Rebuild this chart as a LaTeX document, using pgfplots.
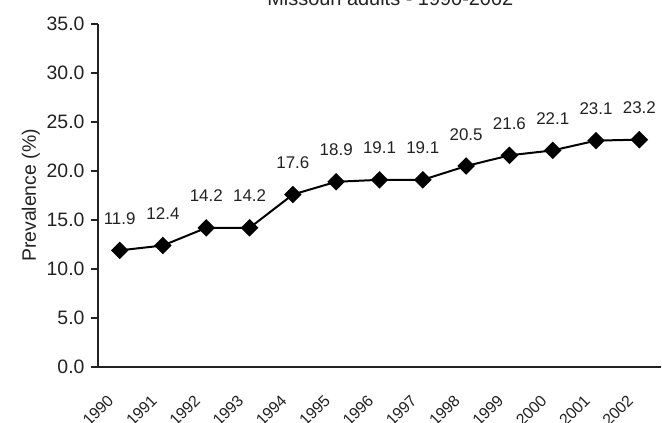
\documentclass[border=0pt]{standalone}
\usepackage{fontspec}
\setmainfont{Liberation Sans}
\usepackage{pgfplots}
\pgfplotsset{compat=1.18}
\definecolor{ink}{HTML}{222222}
\begin{document}
\begin{tikzpicture}
\begin{axis}[
  name=ax,
  scale only axis,
  width=563bp, height=343bp,
  xmin=0, xmax=13, ymin=0, ymax=35,
  clip=false,
  axis lines=left,
  axis line style={-, line width=1.6bp, ink},
  tick align=outside,
  major tick length=7bp, minor tick length=6bp,
  every tick/.style={line width=1.4bp, ink},
  xtick={0.5,1.5,...,12.5},
  xticklabels={1990,1991,1992,1993,1994,1995,1996,1997,1998,1999,2000,2001,2002},
  minor xtick={0,...,13},
  xtick style={draw=none},
  ytick={0,5,...,35},
  /pgf/number format/.cd, fixed, fixed zerofill, precision=1, assume math mode=true,
  /pgfplots/.cd,
  ticklabel style={text=ink},
  yticklabel style={font=\fontsize{19.5}{21}\selectfont, xshift=-3bp},
  xticklabel style={font=\fontsize{16}{18}\selectfont, xshift=-13bp, yshift=-15bp, rotate=45, anchor=north east},
  ylabel={Prevalence (\%)},
  ylabel style={font=\fontsize{19.5}{21}\selectfont, text=ink},
  nodes near coords,
  every node near coord/.append style={anchor=base, yshift=26bp, font=\fontsize{17}{19}\selectfont, text=ink},
]
\addplot[line width=2bp, black, mark=square*, mark size=5.2bp, mark options={rotate=45, fill=black}] coordinates {
(0.5,11.9)
(1.5,12.4)
(2.5,14.2)
(3.5,14.2)
(4.5,17.6)
(5.5,18.9)
(6.5,19.1)
(7.5,19.1)
(8.5,20.5)
(9.5,21.6)
(10.5,22.1)
(11.5,23.1)
(12.5,23.2)
};
\node[anchor=base, font=\fontsize{20}{22}\selectfont, text=ink] at (axis cs:6.75,36.9) {Missouri adults - 1990-2002};
\end{axis}
\pgfresetboundingbox
\path[use as bounding box] ([xshift=-98bp,yshift=-56bp]ax.south west) rectangle ([xshift=1bp,yshift=24bp]ax.north east);
\end{tikzpicture}
\end{document}
